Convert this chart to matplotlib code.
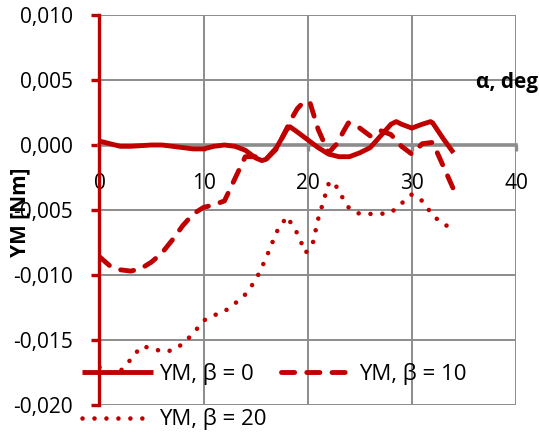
import matplotlib.pyplot as plt
from matplotlib.ticker import FuncFormatter

plt.rcParams['font.family'] = ['Open Sans', 'DejaVu Sans']

# === DATA ===
x_b0 = [0, 1, 2, 3, 4, 5, 6, 7, 8, 9, 10, 11, 12, 13, 14, 15, 15.6, 16, 17, 18,
        18.3, 19, 20, 21, 22, 23, 24, 25, 26, 27, 28, 28.5, 29, 30, 31, 31.8,
        32, 33, 34]
y_b0 = [0.0003, 0.0001, -0.0001, -0.0001, -0.00005, 0.0, 0.0, -0.0001, -0.0002,
        -0.0003, -0.0003, -0.0001, 0.0, -0.0001, -0.0004, -0.0010, -0.0012,
        -0.0011, -0.0002, 0.0012, 0.0014, 0.0010, 0.0004, -0.0002, -0.0007,
        -0.0009, -0.0009, -0.0006, -0.0002, 0.0007, 0.0016, 0.0018, 0.0016,
        0.0013, 0.0016, 0.0018, 0.0017, 0.0005, -0.0006]

x_b10 = [0, 1, 2, 3, 4, 5, 6, 7, 8, 9, 10, 11, 12, 13, 14, 15, 16, 17, 18,
         18.5, 19, 19.6, 20.2, 21, 22, 22.8, 23.4, 23.9, 25, 26, 27, 28, 29,
         30, 31, 32, 33, 34]
y_b10 = [-0.0086, -0.0093, -0.0096, -0.0097, -0.0095, -0.0090, -0.0083, -0.0073,
         -0.0062, -0.0053, -0.0048, -0.0046, -0.0043, -0.0026, -0.0009, -0.0009,
         -0.0011, -0.0003, 0.0013, 0.0021, 0.0028, 0.0033, 0.0033, 0.0012,
         -0.0006, 0.0001, 0.0010, 0.0017, 0.0013, 0.0007, 0.0011, 0.0008,
         -0.0001, -0.0007, 0.0001, 0.0002, -0.0016, -0.0034]

x_b20 = [0, 1, 2, 3, 4, 5, 6, 7, 8, 9, 10, 11, 12, 13, 14, 15, 16, 17, 18, 19,
         19.8, 20.5, 21, 22, 22.5, 23, 24, 25, 26, 27, 28, 29, 30, 31, 32, 33, 34]
y_b20 = [-0.0171, -0.0175, -0.0174, -0.0165, -0.0155, -0.0156, -0.0159, -0.0158,
         -0.0153, -0.0145, -0.0135, -0.0131, -0.0128, -0.0122, -0.0115, -0.0104,
         -0.0087, -0.0067, -0.0055, -0.0068, -0.0083, -0.0075, -0.0057, -0.0030,
         -0.0028, -0.0036, -0.0049, -0.0053, -0.0053, -0.0053, -0.0052, -0.0045,
         -0.0038, -0.0043, -0.0054, -0.0061, -0.0064]

labels = ["YM, β = 0", "YM, β = 10", "YM, β = 20"]
x_ticks = [0, 10, 20, 30, 40]
y_ticks = [-0.020, -0.015, -0.010, -0.005, 0.000, 0.005, 0.010]

red = "#C00000"
grid_gray = "#8C8C8C"
fs = 15

fig = plt.figure(figsize=(5.39, 4.36), dpi=100)
ax = fig.add_axes([0.1846, 0.0711, 0.7727, 0.8945])

l0, = ax.plot(x_b0, y_b0, color=red, lw=3.5, solid_capstyle='butt',
              solid_joinstyle='round', zorder=4)
l1, = ax.plot(x_b10, y_b10, color=red, lw=3.5, dashes=(2.7, 2.5),
              dash_capstyle='round', dash_joinstyle='round', zorder=3)
l2, = ax.plot(x_b20, y_b20, color=red, lw=3.3, dashes=(0.01, 2.6),
              dash_capstyle='round', zorder=3)

ax.set_xlim(0, 40)
ax.set_ylim(-0.020, 0.010)
ax.set_xticks(x_ticks)
ax.set_yticks(y_ticks)
ax.yaxis.set_major_formatter(FuncFormatter(lambda v, p: f"{v:.3f}".replace(".", ",")))
ax.grid(True, color=grid_gray, lw=1.4, zorder=0)

for s in ["top", "right"]:
    ax.spines[s].set_visible(False)
ax.spines["left"].set_color(red)
ax.spines["left"].set_linewidth(2.4)
ax.spines["left"].set_position(("data", 0))
ax.spines["bottom"].set_position(("data", 0))
ax.spines["bottom"].set_color(grid_gray)
ax.spines["bottom"].set_linewidth(2.6)
ax.spines["bottom"].set_zorder(2)

ax.tick_params(axis="y", direction="out", length=6, width=2.4, color=red,
               pad=13, labelsize=fs)
ax.tick_params(axis="x", direction="out", length=4, width=2.4, color=grid_gray,
               pad=16, labelsize=fs)

fig.text(20 / 539, 1 - 212 / 436, "YM [Nm]", rotation=90, ha="center", va="center",
         fontsize=fs, fontweight="bold")
ax.text(39.1, 0.0048, "α, deg", ha="center", va="center", fontsize=fs,
        fontweight="bold")

leg = ax.legend([l0, l2, l1], [labels[0], labels[2], labels[1]], ncol=2,
                loc="upper left", bbox_to_anchor=(82 / 539, 1 - 363 / 436),
                bbox_transform=fig.transFigure, frameon=False, fontsize=16,
                borderpad=0, borderaxespad=0, handlelength=3.2, handletextpad=0.28,
                columnspacing=0.65, labelspacing=1.05)
leg.set_zorder(5)

fig.savefig("out.png", dpi=100)
